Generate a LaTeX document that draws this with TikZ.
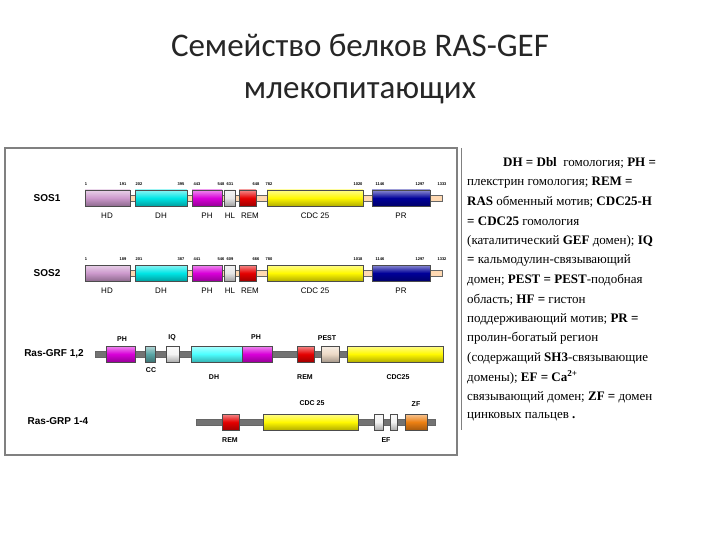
\documentclass[tikz,border=0pt]{standalone}
\usepackage{fontspec}
\setmainfont{Liberation Serif}
\newfontfamily\titlef{Carlito}
\newfontfamily\armf{Liberation Sans}
\colorlet{cHD}{violet!40!white}
\colorlet{cDH}{cyan!80!teal}
\colorlet{cDHb}{cyan!70!white}
\colorlet{cPH}{magenta!70!violet}
\colorlet{cHL}{black!10}
\colorlet{cREM}{red!90!black}
\colorlet{cCDC}{yellow!95!orange}
\colorlet{cPR}{blue!60!black}
\colorlet{cCC}{cyan!30!gray}
\colorlet{cIQ}{black!5}
\colorlet{cPEST}{brown!30!white}
\colorlet{cZF}{orange!70!brown}
\colorlet{cSOSl}{orange!30!white}
\colorlet{cGRl}{black!55}
\begin{document}
\begin{tikzpicture}[x=1pt,y=-1pt,
  dom/.style={draw=black!70,line width=0.4pt,top color=#1!45!white,bottom color=#1!70!black,middle color=#1},
  lnk/.style={draw=black!60,line width=0.3pt,fill=#1},
  num/.style={font=\armf\fontsize{4}{4}\selectfont\bfseries,inner sep=0pt},
  lab/.style={font=\armf\fontsize{8}{8}\selectfont,inner sep=0pt},
  labb/.style={font=\armf\fontsize{7}{7}\selectfont\bfseries,inner sep=0pt},
  pname/.style={font=\armf\fontsize{10}{10}\selectfont\bfseries,inner sep=0pt},
  txt/.style={font=\fontsize{13}{13}\selectfont\bfseries,anchor=west,inner sep=0pt}]
\useasboundingbox (0,0) rectangle (720,540);
\fill[white] (0,0) rectangle (720,540);
\node[font=\titlef\fontsize{33}{33}\selectfont,text=black!85] (t1) at (360,45) {Семейство белков RAS-GEF};
\node[font=\titlef\fontsize{33}{33}\selectfont,text=black!85] (t2) at (360,93) {млекопитающих};
\draw[black!50,line width=2pt] (5,148) rectangle (457,455);
% ---------- SOS rows
\foreach \y/\nm/\nums in {198/SOS1/{86/1,123/191,139/202,181/395,197/443,221/548,230/631,256/648,269/782,358/1020,380/1146,420/1297,442/1333},
                       273/SOS2/{86/1,123/189,139/201,181/387,197/441,221/546,230/609,256/666,269/780,358/1018,380/1146,420/1297,442/1332}}{
  \node[pname] (n\nm) at (47,\y) {\nm};
  \fill[lnk=cSOSl] (85,\y-3) rectangle (442,\y+3);
  \fill[dom=cHD] (85,\y-8) rectangle (130,\y+8);
  \fill[dom=cDH] (135,\y-8) rectangle (187,\y+8);
  \fill[dom=cPH] (192,\y-8) rectangle (222,\y+8);
  \fill[dom=cHL] (224,\y-8) rectangle (235,\y+8);
  \fill[dom=cREM] (239,\y-8) rectangle (256,\y+8);
  \fill[dom=cCDC] (267,\y-8) rectangle (363,\y+8);
  \fill[dom=cPR] (372,\y-8) rectangle (430,\y+8);
  \foreach \xx/\t in \nums {\node[num] at (\xx,\y-14) {\t};}
  \foreach \xx/\t in {107/HD,161/DH,207/PH,230/HL,250/REM,315/CDC 25,401/PR}{\node[lab] at (\xx,\y+18) {\t};}
}
% ---------- Ras-GRF
\node[pname] (ngrf) at (54,354) {Ras-GRF 1,2};
\fill[lnk=cGRl] (95,351) rectangle (443,357);
\fill[dom=cPH] (106,346) rectangle (135,362);
\fill[dom=cCC] (145,346) rectangle (155,362);
\fill[dom=cIQ] (166,346) rectangle (179,362);
\fill[dom=cDHb] (191,346) rectangle (242,362);
\fill[dom=cPH] (242,346) rectangle (272,362);
\fill[dom=cREM] (297,346) rectangle (314,362);
\fill[dom=cPEST] (321,346) rectangle (339,362);
\fill[dom=cCDC] (347,346) rectangle (443,362);
\foreach \xx/\yy/\t in {122/339/PH,151/370/CC,172/338/IQ,256/337/PH,214/377/DH,305/377/REM,327/338/PEST,398/377/CDC25}{\node[labb] at (\xx,\yy) {\t};}
% ---------- Ras-GRP
\node[pname] (ngrp) at (58,421) {Ras-GRP 1-4};
\fill[lnk=cGRl] (196,419) rectangle (435,425);
\fill[dom=cREM] (222,414) rectangle (239,430);
\fill[dom=cCDC] (263,414) rectangle (358,430);
\fill[dom=cIQ] (374,414) rectangle (383,430);
\fill[dom=cIQ] (390,414) rectangle (397,430);
\fill[dom=cZF] (405,414) rectangle (427,430);
\foreach \xx/\yy/\t in {312/403/CDC 25,416/404/ZF,230/440/REM,386/440/EF}{\node[labb] at (\xx,\yy) {\t};}
% ---------- legend text
\draw[black!50,line width=1pt] (461,148) -- (461,430);
\node[txt] (l1) at (503,163) {DH = Dbl\ \ \mdseries гомология; \bfseries PH =};
\node[txt] (l2) at (467,182.5) {\mdseries плекстрин гомология; \bfseries REM =};
\node[txt] (l3) at (467,202) {RAS \mdseries обменный мотив; \bfseries CDC25-H};
\node[txt] (l4) at (467,221.5) {= CDC25 \mdseries гомология};
\node[txt] (l5) at (467,241) {\mdseries (каталитический \bfseries GEF \mdseries домен); \bfseries IQ};
\node[txt] (l6) at (467,260.5) {= \mdseries кальмодулин-связывающий};
\node[txt] (l7) at (467,280) {\mdseries домен; \bfseries PEST = PEST\mdseries -подобная};
\node[txt] (l8) at (467,299.5) {\mdseries область; \bfseries HF = \mdseries гистон};
\node[txt] (l9) at (467,319) {\mdseries поддерживающий мотив; \bfseries PR =};
\node[txt] (l10) at (467,338.5) {\mdseries пролин-богатый регион};
\node[txt] (l11) at (467,358) {\mdseries (содержащий \bfseries SH3\mdseries -связывающие};
\node[txt] (l12) at (467,377.5) {\mdseries домены); \bfseries EF = Ca\textsuperscript{2+}};
\node[txt] (l13) at (467,397) {\mdseries связывающий домен; \bfseries ZF = \mdseries домен};
\node[txt] (l14) at (467,416.5) {\mdseries цинковых пальцев \bfseries .};
\end{tikzpicture}
\end{document}
